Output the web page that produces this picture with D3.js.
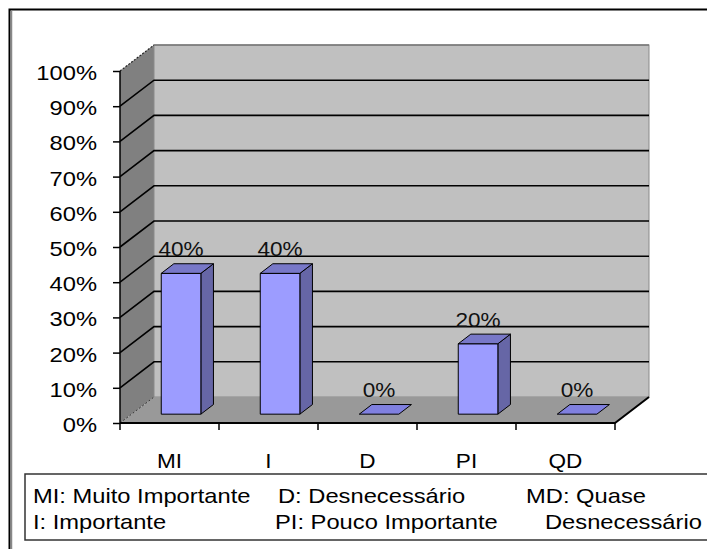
<!DOCTYPE html>
<html><head><meta charset="utf-8">
<script src="https://cdn.jsdelivr.net/npm/d3@7"></script>
<style>html,body{margin:0;padding:0;background:#fff;overflow:hidden}</style>
</head><body>
<svg id="c" width="707" height="549"></svg>
<script>
const categories = ["MI", "I", "D", "PI", "QD"];
const values = [0.40, 0.40, 0.00, 0.20, 0.00];
const yTicks = [0, 0.1, 0.2, 0.3, 0.4, 0.5, 0.6, 0.7, 0.8, 0.9, 1.0];
const legendCol1 = ["MI: Muito Importante", "I: Importante"];
const legendCol2 = ["D: Desnecessário", "PI: Pouco Importante"];
const legendCol3 = ["MD: Quase", "Desnecessário"];

const svg = d3.select("#c");
const FONT = "'Liberation Sans', Arial, sans-serif";
const SX = 1.13;
const X0 = 120, X1 = 615, DX = 34, DY = -26;
const F0 = 0.34, F1 = 0.71;

const y = d3.scaleLinear().domain([0, 1]).range([423, 71]);
const xc = d3.scaleBand().domain(categories).range([X0, X1]);
const xb = d3.scaleBand().domain(categories).range([X0, X1]).paddingInner(0.6).paddingOuter(0.3);

function txt(g, s, x, yy, size, anchor) {
  return g.append("text").attr("transform", `translate(${x},${yy}) scale(${SX},1)`)
    .attr("text-anchor", anchor || "start").attr("font-family", FONT)
    .attr("font-size", size).attr("fill", "#000").text(s);
}

// frame
svg.append("rect").attr("x", 9.5).attr("y", 9.5).attr("width", 900).attr("height", 700)
  .attr("fill", "#fff").attr("stroke", "#000").attr("stroke-width", 2);
svg.append("line").attr("x1", 11.5).attr("x2", 11.5).attr("y1", 11).attr("y2", 549)
  .attr("stroke", "#888").attr("stroke-width", 1.5);

const y0 = y(0), y100 = y(1);
const pts = a => a.map(p => p.join(",")).join(" ");
// walls
svg.append("polygon").attr("points", pts([[X0, y0], [X0, y100], [X0 + DX, y100 + DY], [X0 + DX, y0 + DY]]))
  .attr("fill", "#808080");
svg.append("rect").attr("x", X0 + DX).attr("y", y100 + DY).attr("width", X1 - X0).attr("height", y0 - y100)
  .attr("fill", "#c0c0c0").attr("stroke", "#8a8a8a").attr("stroke-width", 1);
svg.append("polygon").attr("points", pts([[X0, y0], [X1, y0], [X1 + DX, y0 + DY], [X0 + DX, y0 + DY]]))
  .attr("fill", "#999999");

// gridlines
yTicks.forEach(v => {
  if (v === 0) {
    svg.append("line").attr("x1", X0).attr("y1", y0).attr("x2", X0 + DX).attr("y2", y0 + DY)
      .attr("stroke", "#333").attr("stroke-width", 1).attr("stroke-dasharray", "2,2");
    return;
  }
  const yy = y(v);
  if (v === 1) {
    svg.append("line").attr("x1", X0).attr("y1", yy).attr("x2", X0 + DX).attr("y2", yy + DY)
      .attr("stroke", "#222").attr("stroke-width", 1.2).attr("stroke-dasharray", "2,1.5");
    svg.append("line").attr("x1", X0 + DX).attr("y1", yy + DY).attr("x2", X1 + DX).attr("y2", yy + DY)
      .attr("stroke", "#777").attr("stroke-width", 1.5);
    return;
  }
  svg.append("polyline").attr("points", pts([[X0, yy], [X0 + DX, yy + DY], [X1 + DX, yy + DY]]))
    .attr("fill", "none").attr("stroke", "#000").attr("stroke-width", 1.6);
});

// axes
const ax = svg.append("g").attr("transform", `translate(${X0},0)`)
  .call(d3.axisLeft(y).tickValues(yTicks).tickSize(7).tickFormat(""));
ax.select(".domain").remove();
ax.selectAll("line").attr("stroke", "#000").attr("stroke-width", 1.5);
svg.append("line").attr("x1", X0).attr("x2", X0).attr("y1", y100).attr("y2", y0)
  .attr("stroke", "#000").attr("stroke-width", 1.5);
yTicks.forEach(v => txt(svg, d3.format(".0%")(v), 97, y(v) + 9, 21, "end"));

svg.append("polyline").attr("points", pts([[X0, y0], [X1, y0], [X1 + DX, y0 + DY]]))
  .attr("fill", "none").attr("stroke", "#000").attr("stroke-width", 2);
const bounds = categories.map(c => xc(c)).concat([X1]);
bounds.forEach(b => svg.append("line").attr("x1", b).attr("x2", b).attr("y1", y0).attr("y2", y0 + 7)
  .attr("stroke", "#000").attr("stroke-width", 1.5));
categories.forEach(c => txt(svg, c, xc(c) + xc.bandwidth() / 2, 468, 20, "middle"));

// bars
const w = xb.bandwidth();
const ddx = (F1 - F0) * DX, ddy = (F1 - F0) * DY;
categories.forEach((c, i) => {
  const v = values[i];
  const x = xb(c) + F0 * DX;
  const bot = y(0) + F0 * DY;
  const top = y(v) + F0 * DY;
  const g = svg.append("g").attr("stroke", "#000").attr("stroke-width", 1).attr("stroke-linejoin", "round");
  if (v > 0) {
    g.append("polygon").attr("points", pts([[x + w, top], [x + w + ddx, top + ddy], [x + w + ddx, bot + ddy], [x + w, bot]]))
      .attr("fill", "#6666a6");
    g.append("rect").attr("x", x).attr("y", top).attr("width", w).attr("height", bot - top)
      .attr("fill", "#9c9cff");
  }
  g.append("polygon").attr("points", pts([[x, top], [x + w, top], [x + w + ddx, top + ddy], [x + ddx, top + ddy]]))
    .attr("fill", v > 0 ? "#7878c8" : "#8080e0");
  txt(svg, d3.format(".0%")(v), x + w / 2, top - 17, 20, "middle").attr("fill", "#111");
});

// legend box
svg.append("rect").attr("x", 25).attr("y", 474).attr("width", 720).attr("height", 66)
  .attr("fill", "#fff").attr("stroke", "#333").attr("stroke-width", 1.5);
const lx = [[33, 33], [278, 275], [526, 545]];
[legendCol1, legendCol2, legendCol3].forEach((col, ci) => {
  col.forEach((s, ri) => txt(svg, s, lx[ci][ri], 503 + ri * 26, 21, "start"));
});
</script>
</body></html>
